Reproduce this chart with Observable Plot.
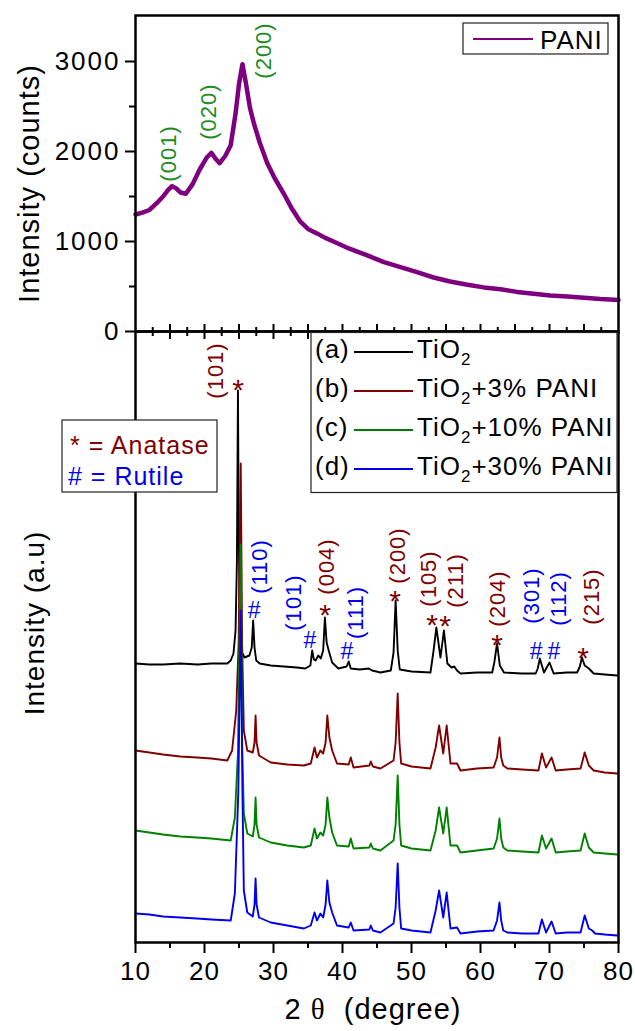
<!DOCTYPE html>
<html>
<head>
<meta charset="utf-8">
<script src="https://cdn.jsdelivr.net/npm/d3@7"></script>
<script src="https://cdn.jsdelivr.net/npm/@observablehq/plot@0.6"></script>
<style>
  html, body { margin: 0; padding: 0; background: white; }
  #figure { position: relative; width: 635px; height: 1031px; }
  #figure > div { position: absolute; left: 0; top: 0; }
  #figure svg text { letter-spacing: 1px; }
  #pani-panel g[aria-label="y-axis tick label"] text { letter-spacing: 2px; }
</style>
</head>
<body>
<div id="figure"><div id="pani-panel"></div><div id="tio2-panel"></div></div>
<script>
// ---------- data ----------
const angleRange = [10, 80];
const angleTicks = [10, 20, 30, 40, 50, 60, 70, 80];
const angleMinorTicks = [15, 25, 35, 45, 55, 65, 75];
const seamTicks = [15, 20, 25, 30, 35, 40, 45, 50, 55, 60, 65, 70, 75];
const seamMinorTicks = [12.5, 17.5, 22.5, 27.5, 32.5, 37.5, 42.5, 47.5, 52.5, 57.5, 62.5, 67.5, 72.5, 77.5];
const countTicks = [0, 1000, 2000, 3000];
const countMinorTicks = [500, 1500, 2500];

// PANI pattern: [2θ, counts]
const paniPattern = [
  [10,1300],[11,1320],[12,1350],[13,1420],[14,1500],[14.7,1570],[15.3,1615],[15.9,1590],[16.5,1545],[17.3,1530],
  [18.3,1640],[19.3,1800],[20.3,1930],[21.0,1985],[21.6,1920],[22.2,1870],[23.0,1950],[23.8,2070],[24.5,2420],
  [25.0,2750],[25.5,2970],[26.0,2760],[26.6,2480],[27.2,2300],[28.0,2100],[29.1,1870],[30.2,1700],[31.5,1530],
  [32.7,1360],[33.9,1220],[35.0,1140],[36.3,1090],[37.5,1040],[38.7,1000],[41,920],[43.6,845],[46,770],
  [48.4,715],[50.8,660],[53.2,600],[55.6,555],[58.1,520],[60.5,490],[62.9,470],[65.3,440],[67.7,420],
  [70.1,400],[72.6,390],[75,375],[77.4,360],[80,350]
];
const paniHklText = ["(001)", "(020)", "(200)"];
const paniHklAngle = [14.8, 20.6, 28.6];
const paniHklLevel = [1978, 2444, 3122];

// TiO2 patterns, stacked intensity (a.u.): [2θ, intensity]
const tio2 = [
  [10,279],[12,278],[14,278],[16.5,279],[19,278],[21,279],[23.3,279],[23.8,282],[24.2,289],[24.5,312],[24.7,382],
  [24.85,552],[24.95,420],[25.1,330],[25.3,292],[25.8,285],[26.5,287],[26.85,295],[27.05,322],[27.25,295],[27.5,282],
  [28,279],[29.6,277],[31.5,276],[33.4,275],[34.6,274],[35.35,277],[35.6,292],[35.85,283],[36.1,282],[36.5,287],
  [36.85,284],[37.2,292],[37.45,325],[37.7,300],[38.0,292],[38.5,280],[39.4,274],[40.6,276],[40.9,281],[41.2,274],
  [42.5,273],[43.8,274],[44.3,272],[45.5,270],[47.0,272],[47.4,290],[47.7,342],[48.0,292],[48.3,273],[50,271],
  [52.75,270],[53.2,292],[53.6,315],[54.2,285],[54.7,312],[55.2,279],[55.8,275],[56.2,276],[56.6,272],[57.1,269],
  [59.5,270],[61.7,270],[62.0,280],[62.4,299],[62.8,277],[63.4,270],[66,269],[68.0,269],[68.3,274],[68.6,284],
  [69.2,270],[70.0,280],[70.6,269],[72.5,270],[74.0,270],[74.4,276],[74.7,285],[75.1,277],[75.7,274],[76.4,269],
  [78,268],[79.8,267]
];
const tio2Pani3 = [
  [10,192],[12,190],[14,188],[16.5,186],[18.9,185],[21,184],[23.3,182],[24.0,192],[24.6,232],[24.95,300],[25.25,479],
  [25.45,300],[25.7,212],[26.2,192],[27.0,190],[27.25,200],[27.4,227],[27.55,200],[27.9,187],[29.6,180],[32,178],
  [34.4,177],[35.4,179],[35.95,195],[36.3,185],[36.8,192],[37.2,189],[37.55,200],[37.8,227],[38.1,205],[38.5,192],
  [39.2,179],[40.9,178],[41.2,185],[41.6,175],[43.9,177],[44.1,181],[44.4,176],[45.5,174],[47.4,182],[47.7,200],
  [48.0,249],[48.25,200],[48.5,179],[50,176],[52.75,174],[53.5,195],[54.0,217],[54.6,189],[55.1,217],[55.65,179],
  [56.6,179],[57.1,172],[59.5,174],[61.9,175],[62.4,185],[62.75,205],[63.0,185],[63.3,177],[63.9,174],[66,173],
  [68.4,172],[68.9,189],[69.5,175],[70.3,185],[70.9,172],[72.5,173],[74.5,174],[75.1,190],[75.7,177],[76.4,172],
  [78,170],[79.8,169]
];
const tio2Pani10 = [
  [10,112],[12,110],[14,108],[16.5,106],[18.9,105],[21,104],[23.8,102],[24.4,125],[24.85,190],[25.25,398],[25.45,200],
  [25.7,129],[26.2,109],[27.0,106],[27.25,118],[27.4,145],[27.55,118],[27.9,105],[29.6,100],[32,97],[34.4,95],
  [35.4,97],[35.95,114],[36.3,104],[36.8,110],[37.2,107],[37.55,118],[37.8,145],[38.1,125],[38.5,110],[39.2,97],
  [40.9,96],[41.2,104],[41.6,94],[43.9,95],[44.1,99],[44.4,94],[45.5,92],[47.4,102],[47.7,118],[48.0,167],
  [48.25,118],[48.5,97],[50,94],[52.75,92],[53.5,112],[54.0,135],[54.6,109],[55.1,135],[55.65,97],[56.6,97],
  [57.1,90],[59.5,92],[61.9,94],[62.4,104],[62.75,124],[63.0,104],[63.3,95],[63.9,92],[66,91],[68.4,90],[68.9,107],
  [69.5,94],[70.3,104],[70.9,90],[72.5,91],[74.5,92],[75.1,109],[75.7,95],[76.4,90],[78,89],[79.8,88]
];
const tio2Pani30 = [
  [10,29],[12,28],[14,26],[16.5,25],[18.9,24],[21,23],[23.8,22],[24.4,49],[24.9,150],[25.25,332],[25.5,150],
  [25.7,52],[26.2,30],[27.0,26],[27.25,38],[27.4,64],[27.55,38],[27.9,25],[29.6,20],[32,17],[34.4,14],[35.4,17],
  [35.95,30],[36.3,22],[36.8,29],[37.2,25],[37.55,38],[37.8,62],[38.1,40],[38.5,30],[39.2,17],[40.9,15],[41.2,20],
  [41.6,12],[43.9,13],[44.1,17],[44.4,12],[45.5,10],[47.4,19],[47.7,35],[48.0,79],[48.25,35],[48.5,14],[50,12],
  [52.75,10],[53.5,32],[54.0,52],[54.6,25],[55.1,50],[55.65,14],[56.6,15],[57.1,9],[59.5,11],[61.9,12],[62.4,22],
  [62.75,40],[63.0,22],[63.3,12],[63.9,10],[66,9],[68.4,9],[68.9,23],[69.5,10],[70.3,21],[70.9,9],[72.5,10],
  [74.5,10],[75.1,27],[75.7,14],[76.2,12],[76.6,9],[78,8],[79.8,7]
];
const seriesTags = ["(a)", "(b)", "(c)", "(d)"];
const seriesSuffix = ["", "+3% PANI", "+10% PANI", "+30% PANI"];

// reflection labels (hkl) with their phase
const hklText  = ["(101)", "(110)", "(101)", "(004)", "(111)", "(200)", "(105)", "(211)", "(204)", "(301)", "(112)", "(215)"];
const hklPhase = ["A", "R", "R", "A", "R", "A", "A", "A", "A", "R", "R", "A"];
const hklAngle = [21.7, 28.1, 33.0, 37.8, 41.9, 48.0, 52.5, 56.5, 62.5, 67.5, 71.4, 76.2];
const hklLevel = [572, 376, 340, 376, 330, 387, 364, 362, 344, 347, 344, 346];
// phase markers: * anatase, # rutile
const anataseAngle = [24.93, 37.54, 47.68, 53.04, 54.93, 62.46, 74.93];
const anataseLevel = [560, 335, 349, 325, 324, 305, 292];
const rutileAngle = [27.25, 35.36, 40.72, 68.12, 70.72];
const rutileLevel = [333, 303, 292, 292, 292];

// ---------- drawing ----------
const FONT = '"Liberation Sans", Arial, sans-serif';
const seriesColors = ["#000000", "#800000", "#008000", "#0000ee"];
const anataseColor = "#800000";
const rutileColor = "#0000ee";
const paniColor = "#7f007f";
const W = 635, H = 1031;
const left = 135, right = 17;

const rows = (pairs) => pairs.map(([angle, value]) => ({angle, value}));
const paniHkl = paniHklText.map((text, i) => ({text, angle: paniHklAngle[i], level: paniHklLevel[i]}));
const hkl = hklText.map((text, i) => ({text, phase: hklPhase[i], angle: hklAngle[i], level: hklLevel[i]}));
const anatase = anataseAngle.map((angle, i) => ({angle, level: anataseLevel[i]}));
const rutile = rutileAngle.map((angle, i) => ({angle, level: rutileLevel[i]}));
const blankTick = () => "";

// upper panel: PANI
const paniPlot = Plot.plot({
  width: W, height: 340,
  marginLeft: left, marginRight: right, marginTop: 15, marginBottom: 9,
  x: {domain: angleRange, axis: null},
  y: {domain: [0, 3511], axis: null},
  style: {fontFamily: FONT, fontSize: "26px", background: "transparent", overflow: "visible", color: "black"},
  marks: [
    Plot.line(rows(paniPattern), {x: "angle", y: "value", stroke: paniColor, strokeWidth: 4.5}),
    Plot.text(paniHkl, {x: "angle", y: "level", text: "text", rotate: -90, fill: "#228b22", fontSize: 22}),
    Plot.axisY(countTicks, {anchor: "left", tickSize: 10, tickPadding: 5, strokeWidth: 2, label: null, fontSize: 26, tickFormat: d => String(d)}),
    Plot.axisY(countMinorTicks, {anchor: "left", tickSize: 6, strokeWidth: 2, tickFormat: blankTick, label: null}),
    Plot.axisX(seamTicks, {anchor: "bottom", tickSize: 8, strokeWidth: 2, tickFormat: blankTick, label: null}),
    Plot.axisX(seamMinorTicks, {anchor: "bottom", tickSize: 5, strokeWidth: 2, tickFormat: blankTick, label: null}),
    Plot.frame({strokeWidth: 2.5}),
    Plot.text(["Intensity (counts)"], {text: d => d, frameAnchor: "left", textAnchor: "middle", rotate: -90, dx: -106, dy: 10, fontSize: 29})
  ]
});
document.getElementById("pani-panel").append(paniPlot);

// lower panel: TiO2 and composites
const patterns = [tio2, tio2Pani3, tio2Pani10, tio2Pani30];
const xTitle = "2 θ  (degree)";
const tio2Plot = Plot.plot({
  width: W, height: H,
  marginLeft: left, marginRight: right, marginTop: 331, marginBottom: 89,
  x: {domain: angleRange, axis: null},
  y: {domain: [0, 611], axis: null},
  style: {fontFamily: FONT, fontSize: "26px", background: "transparent", overflow: "visible", color: "black"},
  marks: [
    ...patterns.map((p, i) => Plot.line(rows(p), {x: "angle", y: "value", stroke: seriesColors[i], strokeWidth: 1.9})),
    Plot.text(hkl.filter(d => d.phase === "A"), {x: "angle", y: "level", text: "text", rotate: -90, fill: anataseColor, fontSize: 22}),
    Plot.text(hkl.filter(d => d.phase === "R"), {x: "angle", y: "level", text: "text", rotate: -90, fill: rutileColor, fontSize: 22}),
    Plot.text(anatase, {x: "angle", y: "level", text: () => "*", fill: anataseColor, fontSize: 30, dy: 8}),
    Plot.text(rutile, {x: "angle", y: "level", text: () => "#", fill: rutileColor, fontSize: 23, dy: 1}),
    Plot.axisX(seamTicks, {anchor: "top", tickSize: 8, strokeWidth: 2, tickFormat: blankTick, label: null}),
    Plot.axisX(seamMinorTicks, {anchor: "top", tickSize: 5, strokeWidth: 2, tickFormat: blankTick, label: null}),
    Plot.axisX(angleTicks, {anchor: "bottom", tickSize: 11, tickPadding: 8, strokeWidth: 2, label: null, fontSize: 26, tickFormat: d => String(d)}),
    Plot.axisX(angleMinorTicks, {anchor: "bottom", tickSize: 6, strokeWidth: 2, tickFormat: blankTick, label: null}),
    Plot.frame({strokeWidth: 2.5}),
    Plot.text(["Intensity (a.u)"], {text: d => d, frameAnchor: "left", textAnchor: "middle", rotate: -90, dx: -100, dy: -14, fontSize: 28}),
    Plot.text([xTitle], {text: d => d, frameAnchor: "bottom", textAnchor: "middle", dy: 76, dx: -4, fontSize: 29})
  ]
});
document.getElementById("tio2-panel").append(tio2Plot);

// θ in a serif face, as in the axis title
d3.select(tio2Plot).selectAll("text")
  .filter(function() { return this.textContent === xTitle; })
  .each(function() {
    const t = d3.select(this).style("white-space", "pre");
    t.text(null);
    t.append("tspan").text("2 ");
    t.append("tspan").attr("font-family", '"Liberation Serif", serif').text("θ");
    t.append("tspan").text("  (degree)");
  });

// legend of the upper panel
const topSvg = d3.select(paniPlot);
const lg1 = topSvg.append("g").attr("font-family", FONT).attr("font-size", 26).attr("text-anchor", "start");
lg1.append("rect").attr("x", 463).attr("y", 23).attr("width", 145).attr("height", 31)
  .attr("fill", "white").attr("stroke", "#222").attr("stroke-width", 1.2);
lg1.append("line").attr("x1", 473).attr("x2", 533).attr("y1", 39).attr("y2", 39)
  .attr("stroke", paniColor).attr("stroke-width", 2);
lg1.append("text").attr("x", 540).attr("y", 49).attr("fill", "black").text("PANI");

// legends of the lower panel
const botSvg = d3.select(tio2Plot);
const lg2 = botSvg.append("g").attr("font-family", FONT).attr("font-size", 26).attr("fill", "black").attr("text-anchor", "start");
lg2.append("rect").attr("x", 311).attr("y", 332.5).attr("width", 306).attr("height", 160)
  .attr("fill", "white").attr("stroke", "#222").attr("stroke-width", 1.2);
seriesTags.forEach((tag, i) => {
  const yb = 358 + i * 39;
  lg2.append("text").attr("x", 315).attr("y", yb).text(tag);
  lg2.append("line").attr("x1", 354).attr("x2", 413).attr("y1", yb - 6).attr("y2", yb - 6)
    .attr("stroke", seriesColors[i]).attr("stroke-width", 2);
  const t = lg2.append("text").attr("x", 417).attr("y", yb);
  t.append("tspan").text("TiO");
  t.append("tspan").attr("font-size", 17).attr("dy", 7).text("2");
  if (seriesSuffix[i]) t.append("tspan").attr("dy", -7).text(seriesSuffix[i]);
});

const lg3 = botSvg.append("g").attr("font-family", FONT).attr("font-size", 25).attr("text-anchor", "start");
lg3.append("rect").attr("x", 62).attr("y", 420).attr("width", 155).attr("height", 72)
  .attr("fill", "white").attr("stroke", "#222").attr("stroke-width", 1.2);
lg3.append("text").attr("x", 70).attr("y", 454).attr("fill", anataseColor).text("* = Anatase");
lg3.append("text").attr("x", 68).attr("y", 485).attr("fill", rutileColor).text("# = Rutile");
</script>
</body>
</html>
